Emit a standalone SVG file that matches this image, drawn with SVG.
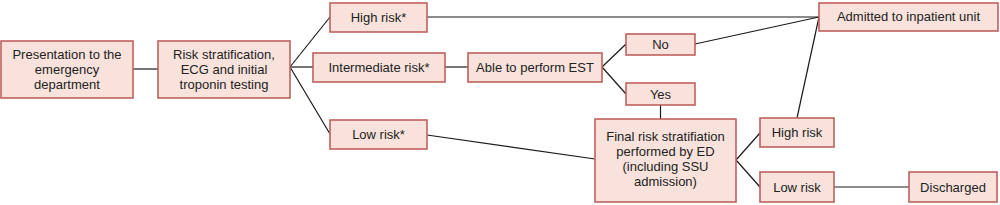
<svg xmlns="http://www.w3.org/2000/svg" width="1000" height="205" viewBox="0 0 1000 205">
<style>
.box{fill:#f8e2db;stroke:#c0625e;stroke-width:1.6}
.t{font-family:"Liberation Sans",Arial,sans-serif;font-size:13px;fill:#222;text-anchor:middle}
.c{stroke:#1a1a1a;stroke-width:1.2;fill:none}
</style>
<rect width="1000" height="205" fill="#ffffff"/>
<g id="connectors">
<line class="c" x1="133" y1="69" x2="158" y2="69"/>
<line class="c" x1="290" y1="67" x2="330" y2="17"/>
<line class="c" x1="290" y1="67" x2="313" y2="67"/>
<line class="c" x1="290" y1="67" x2="330" y2="134"/>
<line class="c" x1="427" y1="17" x2="819" y2="17"/>
<line class="c" x1="445" y1="67" x2="468" y2="67"/>
<line class="c" x1="602" y1="67" x2="626" y2="44"/>
<line class="c" x1="602" y1="67" x2="626" y2="94"/>
<line class="c" x1="695" y1="44" x2="819" y2="17"/>
<line class="c" x1="660.5" y1="105" x2="660.5" y2="119"/>
<line class="c" x1="427" y1="135" x2="595" y2="159"/>
<line class="c" x1="736" y1="160" x2="760" y2="133"/>
<line class="c" x1="736" y1="160" x2="760" y2="187"/>
<line class="c" x1="797" y1="118" x2="819" y2="17"/>
<line class="c" x1="834" y1="187" x2="909" y2="187"/>
</g>
<g id="presentation">
<rect class="box" x="1" y="41" width="132" height="57"/>
<text class="t" x="67" y="59">Presentation to the</text>
<text class="t" x="67" y="74">emergency</text>
<text class="t" x="67" y="89">department</text>
</g>
<g id="risk-strat">
<rect class="box" x="158" y="41" width="132" height="57"/>
<text class="t" x="224" y="59">Risk stratification,</text>
<text class="t" x="224" y="74">ECG and initial</text>
<text class="t" x="224" y="89">troponin testing</text>
</g>
<g id="high-risk-star">
<rect class="box" x="330" y="3" width="97" height="29"/>
<text class="t" x="378.5" y="22">High risk*</text>
</g>
<g id="intermediate">
<rect class="box" x="313" y="53" width="132" height="29"/>
<text class="t" x="379" y="72">Intermediate risk*</text>
</g>
<g id="low-risk-star">
<rect class="box" x="330" y="120" width="97" height="29"/>
<text class="t" x="378.5" y="139">Low risk*</text>
</g>
<g id="able-est">
<rect class="box" x="468" y="53" width="134" height="29"/>
<text class="t" x="535" y="72">Able to perform EST</text>
</g>
<g id="no">
<rect class="box" x="626" y="34" width="69" height="21"/>
<text class="t" x="660.5" y="49">No</text>
</g>
<g id="yes">
<rect class="box" x="626" y="83" width="69" height="22"/>
<text class="t" x="660.5" y="99">Yes</text>
</g>
<g id="admitted">
<rect class="box" x="819" y="3" width="179" height="28"/>
<text class="t" x="908.5" y="21">Admitted to inpatient unit</text>
</g>
<g id="final-strat">
<rect class="box" x="595" y="119" width="141" height="83"/>
<text class="t" x="665.5" y="141">Final risk stratifiation</text>
<text class="t" x="665.5" y="156">performed by ED</text>
<text class="t" x="665.5" y="171">(including SSU</text>
<text class="t" x="665.5" y="186">admission)</text>
</g>
<g id="high-risk">
<rect class="box" x="760" y="118" width="74" height="29"/>
<text class="t" x="797" y="137">High risk</text>
</g>
<g id="low-risk">
<rect class="box" x="760" y="172" width="74" height="30"/>
<text class="t" x="797" y="192">Low risk</text>
</g>
<g id="discharged">
<rect class="box" x="909" y="172" width="88" height="30"/>
<text class="t" x="953" y="192">Discharged</text>
</g>
</svg>
